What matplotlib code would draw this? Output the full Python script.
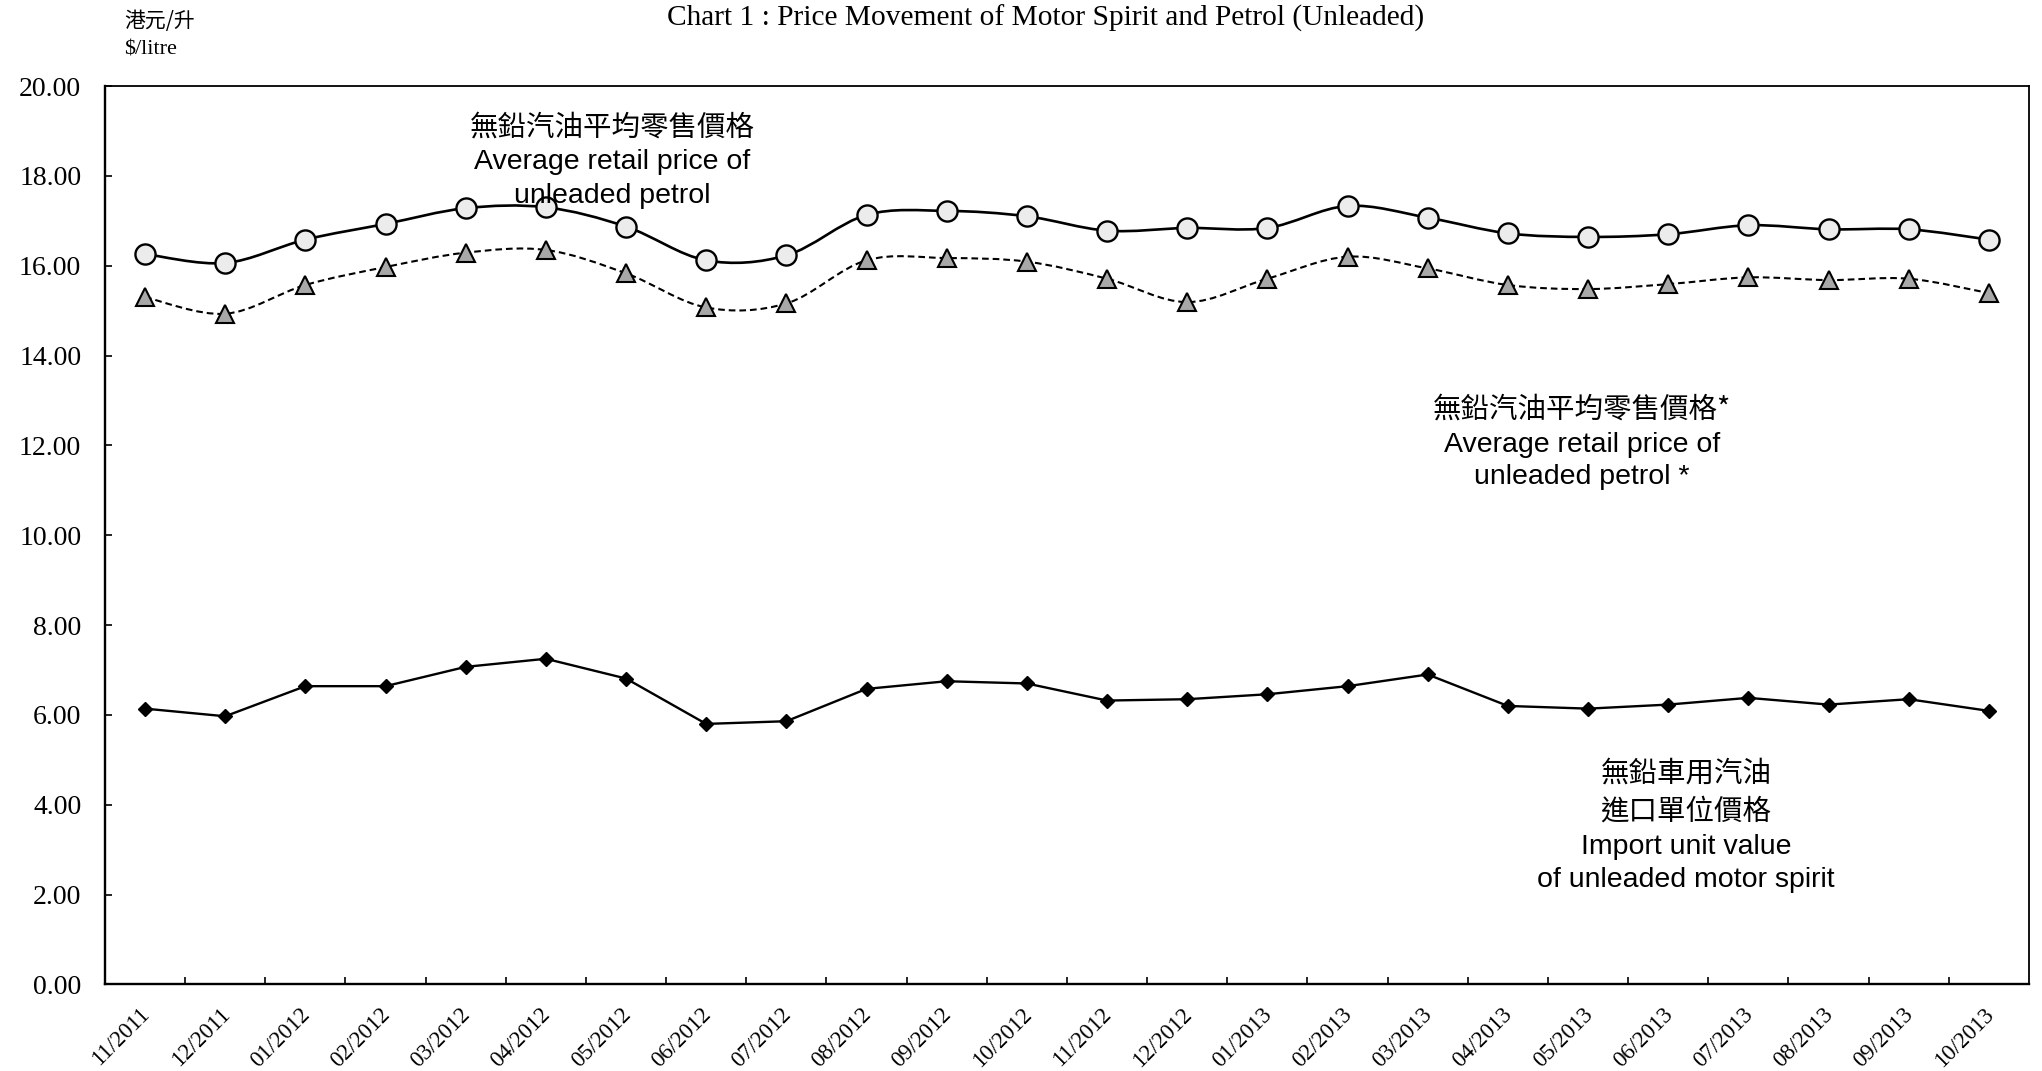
import numpy as np
import matplotlib
matplotlib.use("Agg")
import matplotlib.pyplot as plt
import matplotlib.transforms as mtransforms
from matplotlib.path import Path
from matplotlib.patches import PathPatch

# Data (HK$ per litre)
months = ['11/2011', '12/2011', '01/2012', '02/2012', '03/2012', '04/2012',
          '05/2012', '06/2012', '07/2012', '08/2012', '09/2012', '10/2012',
          '11/2012', '12/2012', '01/2013', '02/2013', '03/2013', '04/2013',
          '05/2013', '06/2013', '07/2013', '08/2013', '09/2013', '10/2013']

retail_price = [16.26, 16.06, 16.58, 16.93, 17.28, 17.30, 16.87, 16.12,
                16.23, 17.13, 17.22, 17.10, 16.78, 16.84, 16.84, 17.33,
                17.07, 16.72, 16.64, 16.70, 16.90, 16.81, 16.81, 16.58]

retail_price_star = [15.30, 14.93, 15.57, 15.97, 16.29, 16.35, 15.83, 15.07,
                     15.16, 16.12, 16.17, 16.09, 15.71, 15.19, 15.71, 16.20,
                     15.94, 15.57, 15.48, 15.59, 15.74, 15.68, 15.71, 15.39]

import_value = [6.14, 5.97, 6.64, 6.64, 7.07, 7.25, 6.81, 5.80,
                5.86, 6.58, 6.75, 6.70, 6.32, 6.35, 6.46, 6.64,
                6.90, 6.20, 6.14, 6.23, 6.38, 6.23, 6.35, 6.09]

SERIF = 'Liberation Serif'
SANS = ['Liberation Sans', 'Noto Sans CJK TC']
CJK = ['Noto Sans CJK TC', 'Liberation Sans']
NOTE_SIZE = 20.5


def smooth_path(x, y):
    """Excel style smoothed line: cubic Bezier through every point."""
    pts = np.column_stack([x, y]).astype(float)
    ext = np.vstack([pts[0], pts, pts[-1]])
    verts = [pts[0]]
    codes = [Path.MOVETO]
    for i in range(len(pts) - 1):
        p0, p1, p2, p3 = ext[i], ext[i + 1], ext[i + 2], ext[i + 3]
        verts += [p1 + (p2 - p0) / 6.0, p2 - (p3 - p1) / 6.0, p2]
        codes += [Path.CURVE4] * 3
    return Path(verts, codes)


def note(x, y, text, family):
    fig.text(x, y, text, family=family, fontsize=NOTE_SIZE, ha='center', va='center')


fig = plt.figure(figsize=(20.42, 10.71), dpi=100)
ax = fig.add_axes([0.0514, 0.0808, 0.9422, 0.8389])

x = np.arange(len(months))

# average retail price (solid smoothed line, open circles)
ax.add_patch(PathPatch(smooth_path(x, retail_price), fill=False,
                       edgecolor='black', linewidth=1.9, zorder=3))
ax.plot(x, retail_price, linestyle='none', marker='o', markersize=14.5,
        markerfacecolor='#ececec', markeredgecolor='black',
        markeredgewidth=1.7, zorder=4)

# average retail price * (dashed smoothed line, grey triangles)
ax.add_patch(PathPatch(smooth_path(x, retail_price_star), fill=False,
                       edgecolor='black', linewidth=1.5,
                       linestyle=(0, (3.2, 1.9)), zorder=3))
ax.plot(x, retail_price_star, linestyle='none', marker='^', markersize=12.5,
        markerfacecolor='#a8a8a8', markeredgecolor='black',
        markeredgewidth=1.5, zorder=4)

# import unit value (straight line, black diamonds)
ax.plot(x, import_value, color='black', linewidth=1.7, marker='D',
        markersize=7, markerfacecolor='black', markeredgecolor='black',
        zorder=4)

# axes
ax.set_xlim(-0.5, len(months) - 0.5)
ax.set_ylim(0, 20)
yticks = np.arange(0, 20.01, 2)
ax.set_yticks(yticks)
ax.set_yticklabels([f'{v:.2f}' for v in yticks], family=SERIF, fontsize=20)
ax.tick_params(axis='y', direction='in', length=5, width=1.2, pad=17)

# labels sit under the categories, tick marks on the boundaries
ax.set_xticks(x)
ax.set_xticklabels(months, family=SERIF, fontsize=16.5, rotation=45,
                   ha='right', va='top', rotation_mode='anchor')
ax.set_xticks(x[:-1] + 0.5, minor=True)
ax.tick_params(axis='x', which='major', length=0, pad=14)
ax.tick_params(axis='x', which='minor', direction='in', length=5, width=1.2)
shift = mtransforms.ScaledTranslation(-0.06, 0, fig.dpi_scale_trans)
for lab in ax.get_xticklabels():
    lab.set_transform(lab.get_transform() + shift)

for side in ['left', 'bottom']:
    ax.spines[side].set_linewidth(1.7)
for side in ['top', 'right']:
    ax.spines[side].set_linewidth(1.3)

# titles and unit labels
fig.text(0.512, 0.983, 'Chart 1 : Price Movement of Motor Spirit and Petrol (Unleaded)',
         family=SERIF, fontsize=21.2, ha='center', va='center')
fig.text(0.0607, 0.980, '港元/升', family=CJK, fontsize=15, ha='left', va='center')
fig.text(0.0607, 0.953, '$/litre', family=SERIF, fontsize=16, ha='left', va='center')

# series annotations
note(0.2997, 0.8810, '無鉛汽油平均零售價格', CJK)
note(0.2997, 0.8490, 'Average retail price of', SANS)
note(0.2997, 0.8170, 'unleaded petrol', SANS)

note(0.7747, 0.6180, '無鉛汽油平均零售價格*', CJK)
note(0.7747, 0.5845, 'Average retail price of', SANS)
note(0.7747, 0.5545, 'unleaded petrol *', SANS)

note(0.8257, 0.2780, '無鉛車用汽油', CJK)
note(0.8257, 0.2420, '進口單位價格', CJK)
note(0.8257, 0.2090, 'Import unit value', SANS)
note(0.8257, 0.1780, 'of unleaded motor spirit', SANS)

fig.savefig('out.png', dpi=100, facecolor='white')
